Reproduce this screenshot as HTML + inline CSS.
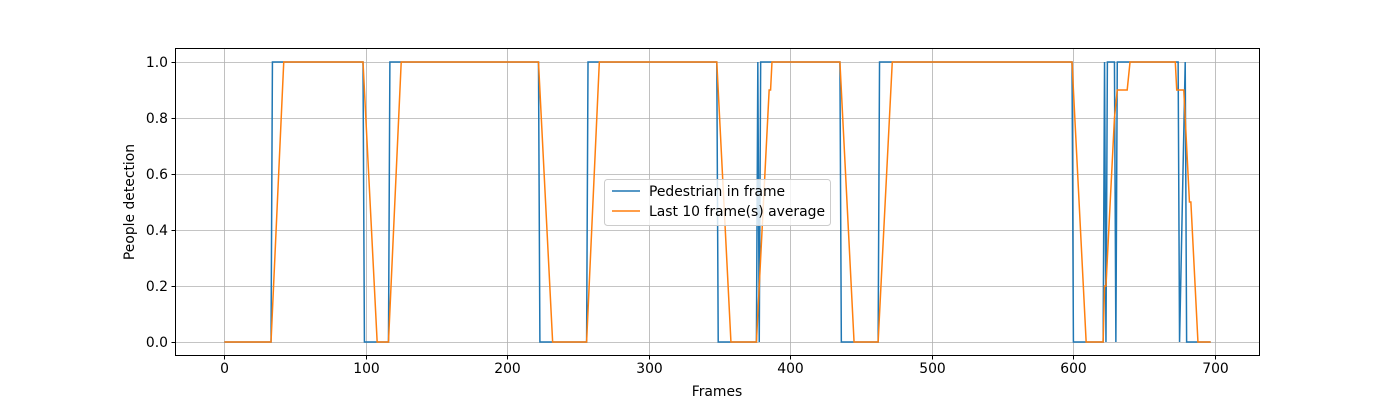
<!DOCTYPE html>
<html><head><meta charset="utf-8"><style>
body{margin:0;background:#fff}
svg text{font-family:"DejaVu Sans","Liberation Sans",sans-serif;font-size:13.9px;fill:#000}
</style></head><body>
<svg id="chart" width="1400" height="400">
<g id="grid"></g>
<g id="series"></g>
<rect x="175.5" y="48.5" width="1084" height="307" fill="none" stroke="#000" stroke-width="1"/>
<g id="ticks"></g>
<text x="717" y="396" text-anchor="middle">Frames</text>
<text transform="translate(134,202) rotate(-90)" text-anchor="middle">People detection</text>
<g>
<rect x="604.5" y="179.5" width="226" height="46" rx="3" fill="#fff" fill-opacity="0.8" stroke="#ccc"/>
<line x1="612" y1="191" x2="640" y2="191" stroke="#1f77b4" stroke-width="1.5"/>
<text x="649" y="196">Pedestrian in frame</text>
<line x1="612" y1="211" x2="640" y2="211" stroke="#ff7f0e" stroke-width="1.5"/>
<text x="649" y="216">Last 10 frame(s) average</text>
</g>
</svg>
<script>
const xTicks=[0,100,200,300,400,500,600,700];
const yTicks=[0,0.2,0.4,0.6,0.8,1.0];
const yTickLabels=["0.0","0.2","0.4","0.6","0.8","1.0"];
const blueFrames=[0,33,34,98,99,116,117,222,223,256,257,348,349,376,377,378,379,435,436,462,463,599,600,621,622,623,624,629,630,631,674,675,679,680,697];
const blueValues=[0,0,1,1,0,0,1,1,0,0,1,1,0,0,1,0,1,1,0,0,1,1,0,0,1,0,1,1,0,1,1,0,1,0,0];
const orangeFrames=[0,33,42,98,108,116,125,222,232,256,265,348,358,376,377,385,386,387,435,445,462,472,599,609,621,622,623,628,629,631,638,640,672,673,678,682,683,688,697];
const orangeValues=[0,0,1,1,0,0,1,1,0,0,1,1,0,0,0.1,0.9,0.9,1,1,0,0,1,1,0,0,0.2,0.2,0.7,0.8,0.9,0.9,1,1,0.9,0.9,0.5,0.5,0,0];
const X0=-34.85,X1=731.85,Y0=-0.05,Y1=1.05;
const L=175,R=1260,T=48,B=356;
const sx=v=>L+(v-X0)/(X1-X0)*(R-L);
const sy=v=>B-(v-Y0)/(Y1-Y0)*(B-T);
const NS="http://www.w3.org/2000/svg";
const grid=document.getElementById('grid'),ticks=document.getElementById('ticks'),series=document.getElementById('series');
function mk(tag,attrs,parent){const e=document.createElementNS(NS,tag);for(const k in attrs)e.setAttribute(k,attrs[k]);parent.appendChild(e);return e;}
xTicks.forEach(t=>{const x=Math.round(sx(t))+0.5;
 const g=mk('line',{x1:x,x2:x,y1:T,y2:B,stroke:'#b0b0b0','stroke-width':0.8},grid);
 
 
 const tk=mk('line',{x1:x,x2:x,y1:B,y2:B+3.5,stroke:'#000'},ticks);
 
 
 const tx=mk('text',{x:x,y:B+17,'text-anchor':'middle'},ticks);tx.textContent=t;
 
 
});
yTicks.forEach((t,i)=>{const y=Math.round(sy(t))+0.5;
 const g=mk('line',{x1:L,x2:R,y1:y,y2:y,stroke:'#b0b0b0','stroke-width':0.8},grid);
 
 
 const tk=mk('line',{x1:L-3.5,x2:L,y1:y,y2:y,stroke:'#000'},ticks);
 
 
 const tx=mk('text',{x:L-7,y:y+4.5,'text-anchor':'end'},ticks);tx.textContent=yTickLabels[i];
 
 
});
function pts(f,v){return f.map((d,i)=>sx(d).toFixed(2)+','+sy(v[i]).toFixed(2)).join(' ');}
const pb=mk('polyline',{points:pts(blueFrames,blueValues),fill:'none',stroke:'#1f77b4','stroke-width':1.5},series);


const po=mk('polyline',{points:pts(orangeFrames,orangeValues),fill:'none',stroke:'#ff7f0e','stroke-width':1.5},series);


</script>
</body></html>
